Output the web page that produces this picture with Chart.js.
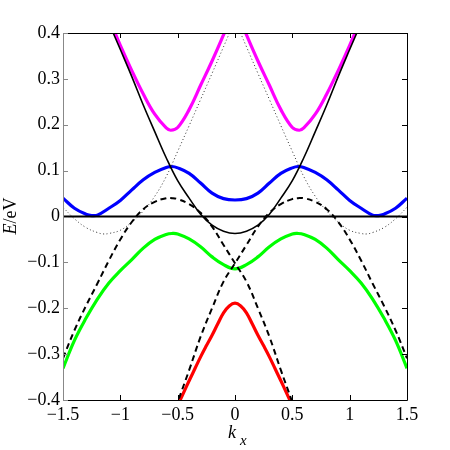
<!DOCTYPE html>
<html>
<head>
<meta charset="utf-8">
<script src="https://cdn.jsdelivr.net/npm/chart.js@4.4.1/dist/chart.umd.min.js"></script>
<style>
  body { margin: 0; background: #fff; }
</style>
</head>
<body>
<canvas id="chart" width="450" height="450"></canvas>
<script>
// axis ticks
const xTicks = [-1.5, -1, -0.5, 0, 0.5, 1, 1.5];
const yTicks = [-0.4, -0.3, -0.2, -0.1, 0, 0.1, 0.2, 0.3, 0.4];

// magenta band, left and right branch
const kMagL = [-1.1, -1.0, -0.9, -0.8, -0.7, -0.6, -0.56, -0.5, -0.4, -0.3, -0.2, -0.1, 0];
const eMagL = [0.432, 0.373, 0.318, 0.267, 0.223, 0.193, 0.188, 0.194, 0.233, 0.286, 0.339, 0.396, 0.455];
const kMagR = [0, 0.1, 0.2, 0.3, 0.4, 0.5, 0.56, 0.6, 0.7, 0.8, 0.9, 1.0, 1.1];
const eMagR = [0.455, 0.396, 0.339, 0.286, 0.233, 0.194, 0.188, 0.193, 0.223, 0.267, 0.318, 0.373, 0.432];

// blue band
const kBlue = [-1.5, -1.4, -1.3, -1.25, -1.2, -1.1, -1.0, -0.9, -0.8, -0.7, -0.6, -0.55, -0.5, -0.4, -0.3, -0.2, -0.1, 0,
               0.1, 0.2, 0.3, 0.4, 0.5, 0.55, 0.6, 0.7, 0.8, 0.9, 1.0, 1.1, 1.2, 1.25, 1.3, 1.4, 1.5];
const eBlue = [0.040, 0.018, 0.005, 0.002, 0.003, 0.018, 0.035, 0.058, 0.080, 0.096, 0.107, 0.109, 0.106, 0.094, 0.073, 0.051, 0.039, 0.036,
               0.039, 0.051, 0.073, 0.094, 0.106, 0.109, 0.107, 0.096, 0.080, 0.058, 0.035, 0.018, 0.003, 0.002, 0.005, 0.018, 0.040];

// green band
const kGreen = [-1.5, -1.4, -1.3, -1.2, -1.1, -1.0, -0.9, -0.8, -0.7, -0.6, -0.55, -0.5, -0.4, -0.3, -0.2, -0.1, 0,
                0.1, 0.2, 0.3, 0.4, 0.5, 0.55, 0.6, 0.7, 0.8, 0.9, 1.0, 1.1, 1.2, 1.3, 1.4, 1.5];
const eGreen = [-0.331, -0.270, -0.222, -0.180, -0.145, -0.118, -0.094, -0.069, -0.050, -0.039, -0.037, -0.038, -0.049, -0.066, -0.088, -0.105, -0.114,
                -0.105, -0.088, -0.066, -0.049, -0.038, -0.037, -0.039, -0.050, -0.069, -0.094, -0.118, -0.145, -0.180, -0.222, -0.270, -0.331];

// red band
const kRed = [-0.55, -0.5, -0.45, -0.4, -0.35, -0.3, -0.25, -0.2, -0.15, -0.1, -0.05, 0, 0.05, 0.1, 0.15, 0.2, 0.25, 0.3, 0.35, 0.4, 0.45, 0.5, 0.55];
const eRed = [-0.44, -0.412, -0.385, -0.358, -0.332, -0.306, -0.282, -0.259, -0.234, -0.210, -0.195, -0.189,
              -0.195, -0.210, -0.234, -0.259, -0.282, -0.306, -0.332, -0.358, -0.385, -0.412, -0.44];

// black solid parabola
const kPara = [-1.1, -1.0, -0.9, -0.8, -0.7, -0.6, -0.5, -0.4, -0.3, -0.2, -0.1, 0, 0.1, 0.2, 0.3, 0.4, 0.5, 0.6, 0.7, 0.8, 0.9, 1.0, 1.1];
const ePara = [0.422, 0.364, 0.305, 0.243, 0.185, 0.128, 0.078, 0.040, 0.005, -0.019, -0.032, -0.037,
               -0.032, -0.019, 0.005, 0.040, 0.078, 0.128, 0.185, 0.243, 0.305, 0.364, 0.422];

// black dashed, two crossing curves
const kDashA = [-1.5, -1.4, -1.3, -1.2, -1.1, -1.0, -0.9, -0.8, -0.7, -0.6, -0.55, -0.5, -0.4, -0.3, -0.2, -0.1, 0, 0.1, 0.2, 0.3, 0.4, 0.5, 0.6];
const eDashA = [-0.309, -0.248, -0.195, -0.146, -0.096, -0.050, -0.012, 0.016, 0.032, 0.040, 0.040, 0.038, 0.027, 0.008, -0.022, -0.062, -0.102,
                -0.142, -0.200, -0.262, -0.335, -0.405, -0.480];
const kDashB = [-0.6, -0.5, -0.4, -0.3, -0.2, -0.1, 0, 0.1, 0.2, 0.3, 0.4, 0.5, 0.55, 0.6, 0.7, 0.8, 0.9, 1.0, 1.1, 1.2, 1.3, 1.4, 1.5];
const eDashB = [-0.480, -0.405, -0.335, -0.262, -0.200, -0.142, -0.102, -0.062, -0.022, 0.008, 0.027, 0.038, 0.040, 0.040, 0.032, 0.016, -0.012,
                -0.050, -0.096, -0.146, -0.195, -0.248, -0.309];

// black dotted, left and right branch
const kDotL = [-1.5, -1.4, -1.3, -1.2, -1.15, -1.1, -1.0, -0.9, -0.8, -0.7, -0.6, -0.5, -0.4, -0.3, -0.2, -0.1, 0];
const eDotL = [0.020, -0.005, -0.024, -0.035, -0.038, -0.037, -0.030, -0.012, 0.012, 0.044, 0.087, 0.142, 0.198, 0.255, 0.312, 0.370, 0.428];
const kDotR = [0, 0.1, 0.2, 0.3, 0.4, 0.5, 0.6, 0.7, 0.8, 0.9, 1.0, 1.1, 1.15, 1.2, 1.3, 1.4, 1.5];
const eDotR = [0.428, 0.370, 0.312, 0.255, 0.198, 0.142, 0.087, 0.044, 0.012, -0.012, -0.030, -0.037, -0.038, -0.035, -0.024, -0.005, 0.020];

// zero line
const kZero = [-1.5, 1.5];
const eZero = [0, 0];

const serif = "'Liberation Serif', 'Times New Roman', serif";

function pts(ks, es) {
    return ks.map((k, i) => ({ x: k, y: es[i] }));
}

function curve(ks, es, color, width, dash) {
    return {
        data: pts(ks, es),
        borderColor: color,
        borderWidth: width,
        borderDash: dash || [],
        pointRadius: 0,
        fill: false,
        tension: 0.4,
        clip: 0,
    };
}

function fmt(v) {
    const s = String(Math.round(v * 10) / 10);
    return s.replace('-', '\u2212');
}

// box, inward ticks and axis titles
const framePlugin = {
    id: 'frame',
    afterDatasetsDraw(chart) {
        const { ctx, chartArea: a, scales } = chart;
        ctx.save();
        ctx.lineWidth = 1;
        ctx.strokeStyle = '#000';
        ctx.beginPath();
        ctx.moveTo(a.left, a.top + 0.5);
        ctx.lineTo(a.right + 0.5, a.top + 0.5);
        ctx.lineTo(a.right + 0.5, a.bottom + 0.5);
        ctx.lineTo(a.left, a.bottom + 0.5);
        const tl = 5;
        xTicks.forEach(t => {
            const px = Math.round(scales.x.getPixelForValue(t)) + 0.5;
            ctx.moveTo(px, a.bottom);
            ctx.lineTo(px, a.bottom - tl);
            ctx.moveTo(px, a.top);
            ctx.lineTo(px, a.top + tl);
        });
        yTicks.forEach(t => {
            const py = Math.round(scales.y.getPixelForValue(t)) + 0.5;
            ctx.moveTo(a.right, py);
            ctx.lineTo(a.right - tl, py);
        });
        ctx.stroke();
        // left side is drawn grey in the reference
        ctx.strokeStyle = '#888';
        ctx.beginPath();
        ctx.moveTo(a.left + 0.5, a.top);
        ctx.lineTo(a.left + 0.5, a.bottom + 1);
        yTicks.forEach(t => {
            const py = Math.round(scales.y.getPixelForValue(t)) + 0.5;
            ctx.moveTo(a.left, py);
            ctx.lineTo(a.left + tl, py);
        });
        ctx.stroke();

        // x title: k with subscript x
        ctx.fillStyle = '#000';
        ctx.textBaseline = 'alphabetic';
        ctx.textAlign = 'left';
        ctx.font = 'italic 18px ' + serif;
        ctx.fillText('k', 228, 438);
        ctx.font = 'italic 15px ' + serif;
        ctx.fillText('x', 240, 445);

        // y title: E/eV rotated
        ctx.translate(16, 216);
        ctx.rotate(-Math.PI / 2);
        ctx.font = 'italic 18px ' + serif;
        const wE = ctx.measureText('E').width;
        ctx.font = '18px ' + serif;
        const wR = ctx.measureText('/eV').width;
        const x0 = -(wE + wR) / 2;
        ctx.font = 'italic 18px ' + serif;
        ctx.fillText('E', x0, 0);
        ctx.font = '18px ' + serif;
        ctx.fillText('/eV', x0 + wE, 0);
        ctx.restore();
    }
};

new Chart(document.getElementById('chart'), {
    type: 'line',
    data: {
        datasets: [
            curve(kPara, ePara, '#000', 1.6),
            curve(kZero, eZero, '#000', 2),
            curve(kDashA, eDashA, '#000', 2, [6, 4]),
            curve(kDashB, eDashB, '#000', 2, [6, 4]),
            curve(kDotL, eDotL, '#333', 1, [1, 2.5]),
            curve(kDotR, eDotR, '#333', 1, [1, 2.5]),
            curve(kMagL, eMagL, '#ff00ff', 3.2),
            curve(kMagR, eMagR, '#ff00ff', 3.2),
            curve(kBlue, eBlue, '#0000ff', 3.2),
            curve(kGreen, eGreen, '#00ff00', 3.2),
            curve(kRed, eRed, '#ff0000', 3.2),
        ]
    },
    options: {
        responsive: false,
        animation: false,
        events: [],
        layout: { padding: { left: 0, top: 33, right: 43, bottom: 0 } },
        plugins: {
            legend: { display: false },
            tooltip: { enabled: false },
        },
        scales: {
            x: {
                type: 'linear',
                min: -1.5,
                max: 1.5,
                grid: { display: false, drawTicks: false },
                border: { display: false },
                afterBuildTicks: s => { s.ticks = xTicks.map(v => ({ value: v })); },
                afterFit: s => { s.height = 50; },
                ticks: {
                    color: '#000',
                    padding: 4,
                    maxRotation: 0,
                    font: { family: serif, size: 18 },
                    callback: v => fmt(v),
                },
            },
            y: {
                type: 'linear',
                min: -0.4,
                max: 0.4,
                grid: { display: false, drawTicks: false },
                border: { display: false },
                afterBuildTicks: s => { s.ticks = yTicks.map(v => ({ value: v })); },
                afterFit: s => { s.width = 63; },
                ticks: {
                    color: '#000',
                    padding: 3,
                    font: { family: serif, size: 18 },
                    callback: v => fmt(v),
                },
            },
        },
    },
    plugins: [framePlugin],
});
</script>
</body>
</html>
